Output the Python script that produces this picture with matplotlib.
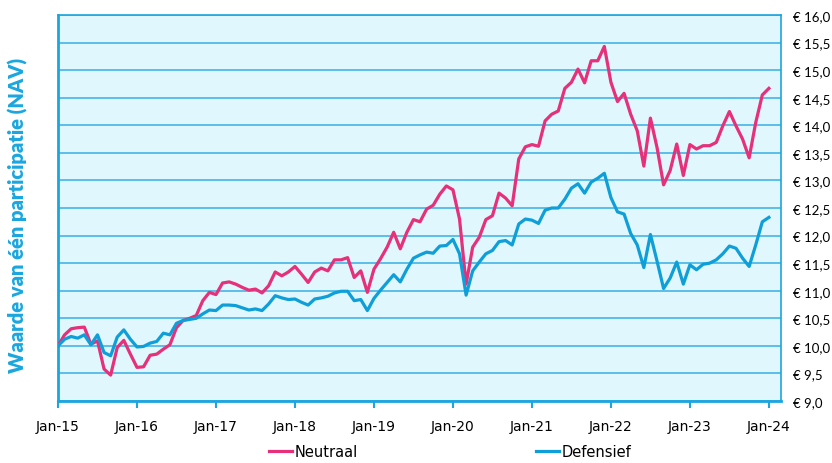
import numpy as np
import matplotlib
matplotlib.use("Agg")
import matplotlib.pyplot as plt

# maanden vanaf jan-2015 (0) t/m jan-2024 (108)
neutraal = [
    10.00, 10.20, 10.31, 10.33, 10.34, 10.03, 10.09, 9.58, 9.47, 9.97, 10.10, 9.85,
    9.61, 9.62, 9.83, 9.85, 9.94, 10.02, 10.33, 10.46, 10.50, 10.55, 10.82, 10.97,
    10.93, 11.14, 11.16, 11.12, 11.06, 11.01, 11.03, 10.96, 11.09, 11.34, 11.27, 11.34,
    11.44, 11.30, 11.15, 11.34, 11.41, 11.36, 11.56, 11.56, 11.60, 11.24, 11.36, 10.97,
    11.39, 11.58, 11.79, 12.06, 11.76, 12.06, 12.29, 12.25, 12.48, 12.55, 12.75, 12.90,
    12.83, 12.30, 11.12, 11.79, 11.97, 12.29, 12.36, 12.77, 12.68, 12.54, 13.39, 13.61,
    13.65, 13.62, 14.08, 14.20, 14.26, 14.67, 14.78, 15.02, 14.77, 15.17, 15.17, 15.43,
    14.78, 14.43, 14.58, 14.20, 13.90, 13.26, 14.13, 13.60, 12.92, 13.18, 13.66, 13.09,
    13.65, 13.57, 13.63, 13.63, 13.69, 13.99, 14.25, 13.99, 13.75, 13.41, 14.05, 14.55,
    14.67,
]
defensief = [
    10.00, 10.12, 10.17, 10.14, 10.20, 10.02, 10.20, 9.88, 9.82, 10.16, 10.29, 10.12,
    9.98, 9.99, 10.05, 10.08, 10.23, 10.20, 10.41, 10.46, 10.48, 10.50, 10.58, 10.65,
    10.64, 10.74, 10.74, 10.73, 10.69, 10.65, 10.67, 10.64, 10.76, 10.91, 10.87, 10.84,
    10.85, 10.79, 10.74, 10.85, 10.87, 10.90, 10.96, 10.99, 10.99, 10.82, 10.84, 10.64,
    10.86, 11.01, 11.15, 11.29, 11.16, 11.39, 11.59, 11.65, 11.70, 11.68, 11.81, 11.82,
    11.93, 11.67, 10.92, 11.36, 11.52, 11.67, 11.73, 11.89, 11.91, 11.83, 12.21, 12.30,
    12.28, 12.22, 12.46, 12.50, 12.50, 12.66, 12.86, 12.94, 12.77, 12.97, 13.04, 13.13,
    12.69, 12.43, 12.39, 12.04, 11.83, 11.42, 12.02, 11.54, 11.04, 11.23, 11.52, 11.12,
    11.47, 11.38, 11.48, 11.50, 11.56, 11.67, 11.81, 11.77, 11.59, 11.44, 11.83, 12.25,
    12.33,
]
x_labels = ['Jan-15', 'Jan-16', 'Jan-17', 'Jan-18', 'Jan-19', 'Jan-20', 'Jan-21', 'Jan-22', 'Jan-23', 'Jan-24']
y_values = np.arange(9.0, 16.01, 0.5)
y_labels = ['€ ' + ('%.1f' % v).replace('.', ',') for v in y_values]

blue = '#1ba6df'
line_blue = '#0f9fd8'
pink = '#e6307a'
label_font = ['Liberation Sans Narrow', 'DejaVu Sans']

fig = plt.figure(figsize=(8.32, 4.64), dpi=100)
ax = fig.add_axes([0.0697, 0.1336, 0.8687, 0.8319])
ax.set_facecolor('#dff7fd')

months = np.arange(len(neutraal))
ax.plot(months, neutraal, color=pink, lw=2.3, label='Neutraal', zorder=3)
ax.plot(months, defensief, color=line_blue, lw=2.3, label='Defensief', zorder=3)

ax.set_xlim(0, 109.8)
ax.set_ylim(9.0, 16.0)

ax.set_yticks(y_values)
ax.set_yticklabels(y_labels, family=['Lato', 'DejaVu Sans'], fontsize=9.5)
ax.yaxis.tick_right()
ax.tick_params(axis='y', length=0, pad=9)
ax.yaxis.grid(True, color='#45b5e6', lw=1.2)
ax.set_axisbelow(True)

ax.set_xticks(np.arange(0, 109, 12))
ax.set_xticklabels(x_labels, family=label_font, fontsize=10)
ax.tick_params(axis='x', length=5, width=1.5, color=blue, pad=8)

for side in ['left', 'bottom']:
    ax.spines[side].set_color(blue)
    ax.spines[side].set_linewidth(2)
for side in ['top', 'right']:
    ax.spines[side].set_color(blue)
    ax.spines[side].set_linewidth(1.2)

fig.text(0.022, 0.535, 'Waarde van één participatie (NAV)', rotation=90,
         ha='center', va='center', color=blue, fontsize=14.5, fontweight='heavy',
         family=['Lato', 'DejaVu Sans'])

fig.legend(loc='center', bbox_to_anchor=(0.541, 0.024), ncol=2, frameon=False,
           prop={'family': label_font, 'size': 10.5}, handlelength=1.6,
           handletextpad=0.15, columnspacing=12.2)

plt.savefig('out.png', dpi=100)
